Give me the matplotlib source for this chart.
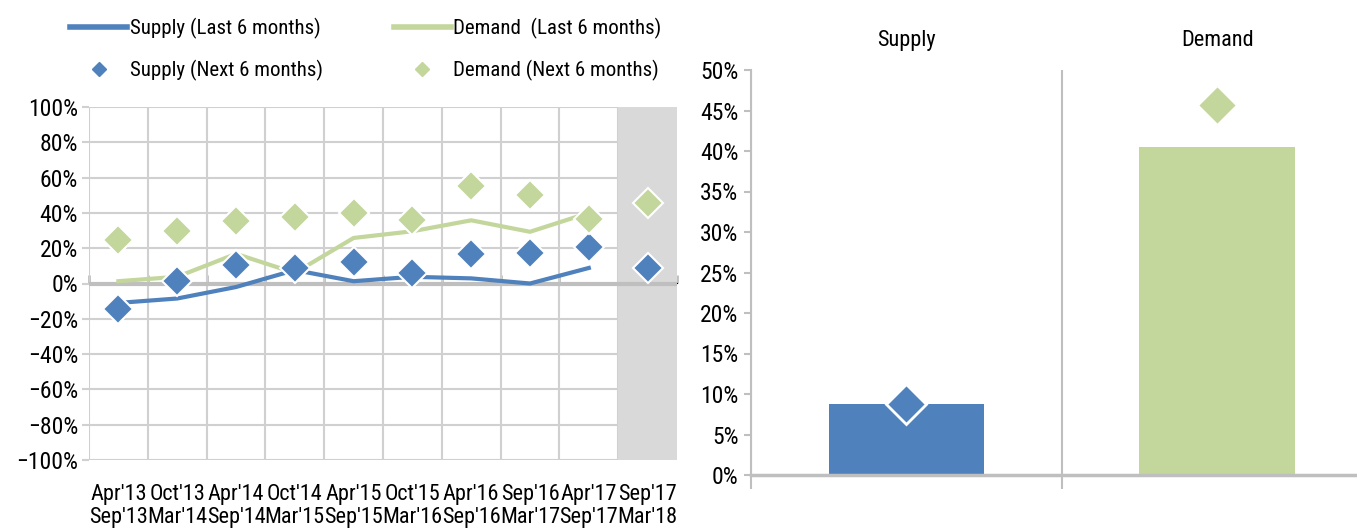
import matplotlib
matplotlib.use('Agg')
import matplotlib.pyplot as plt
from matplotlib import font_manager
from matplotlib.lines import Line2D
from matplotlib.ticker import PercentFormatter


def pick_font():
    # prefer a narrow face, the original uses a condensed sans
    for name in ['Liberation Sans Narrow', 'Roboto Condensed', 'Open Sans Condensed']:
        try:
            font_manager.findfont(name, fallback_to_default=False)
            return name, None, 1.0
        except ValueError:
            pass
    path = font_manager.findfont(font_manager.FontProperties(family='DejaVu Sans', stretch='condensed'))
    if 'Condensed' in path:
        return 'DejaVu Sans', 'condensed', 0.93
    return 'Liberation Sans', None, 0.85


family, stretch, scale = pick_font()
plt.rcParams['font.family'] = [family, 'DejaVu Sans']
if stretch:
    plt.rcParams['font.stretch'] = stretch
fs_leg = 15 * scale
fs_x = 16 * scale
fs_y = 17 * scale

# survey periods
periods = ["Apr'13\nSep'13", "Oct'13\nMar'14", "Apr'14\nSep'14", "Oct'14\nMar'15",
           "Apr'15\nSep'15", "Oct'15\nMar'16", "Apr'16\nSep'16", "Sep'16\nMar'17",
           "Apr'17\nSep'17", "Sep'17\nMar'18"]

# balances, % (last 6 months has no value for the latest period)
supply_last = [-11, -8.5, -2, 7.6, 1.3, 3.8, 2.9, 0, 8.8]
demand_last = [1.3, 3.8, 16.8, 6, 25.8, 29.6, 35.8, 29.3, 40]
supply_next = [-14.3, 1.3, 10.5, 9, 12, 6, 16.6, 17.2, 20.6, 8.8]
demand_next = [24.9, 29.6, 35.4, 37.7, 40.1, 36, 55.4, 50.3, 36.3, 45.8]

# latest reading
latest_cats = ['Supply', 'Demand']
latest_last = [8.8, 40.5]
latest_next = [8.8, 45.7]

blue = '#4f81bd'
green = '#c3d69b'
grid_c = '#d0d0d0'

fig = plt.figure(figsize=(13.57, 5.30), dpi=100)

# ---- left: history ----
ax = fig.add_axes([89/1357, 70/530, 588/1357, 353/530])
n = len(periods)
x = list(range(n))
ax.axvspan(n - 1.5, n - 0.5, color='#d9d9d9', zorder=1)
ax.axhline(0, color='#bfbfbf', lw=3, zorder=1.5)
ax.plot(x[:len(supply_last)], supply_last, color=blue, lw=3, zorder=3)
ax.plot(x[:len(demand_last)], demand_last, color=green, lw=3, zorder=3)
ax.plot(x, supply_next, ls='none', marker='D', ms=15, color=blue, mec='white', mew=1.5, zorder=4)
ax.plot(x, demand_next, ls='none', marker='D', ms=15, color=green, mec='white', mew=1.5, zorder=4)

ax.set_xlim(-0.5, n - 0.5)
ax.set_ylim(-100, 100)
ax.set_yticks(range(-100, 101, 20))
ax.yaxis.set_major_formatter(PercentFormatter(decimals=0))
ax.set_xticks([i - 0.5 for i in range(n + 1)], labels=[])
ax.set_xticks(x, labels=periods, minor=True)
ax.tick_params(axis='x', which='major', length=0)
ax.tick_params(axis='x', which='minor', length=0, labelsize=fs_x, pad=17)
ax.tick_params(axis='y', length=5, color=grid_c, width=1.5, labelsize=fs_y, pad=3)
for lab in ax.get_xticklabels(minor=True):
    lab.set_linespacing(1.15)
ax.set_axisbelow(True)
ax.grid(True, which='major', color=grid_c, lw=1.5)
for s in ax.spines.values():
    s.set_visible(False)

zero_ticks = ax.secondary_xaxis(0.5)
zero_ticks.set_xticks([i - 0.5 for i in range(n + 1)], labels=[])
zero_ticks.tick_params(length=6, width=2, color='#bfbfbf')
zero_ticks.spines['bottom'].set_visible(False)

handles = [
    Line2D([], [], color=blue, lw=4),
    Line2D([], [], ls='none', marker='D', ms=7, color=blue),
    Line2D([], [], color=green, lw=4),
    Line2D([], [], ls='none', marker='D', ms=7, color=green),
]
labels = ['Supply (Last 6 months)', 'Supply (Next 6 months)',
          'Demand  (Last 6 months)', 'Demand (Next 6 months)']
fig.legend(handles, labels, loc='upper left', bbox_to_anchor=(70/1357, 1 - 18/530),
           ncol=2, frameon=False, fontsize=fs_leg, handlelength=2.75, handletextpad=0.12,
           columnspacing=3.4, labelspacing=1.0, borderpad=0, borderaxespad=0)

# ---- right: latest ----
ax2 = fig.add_axes([751/1357, 55/530, 606/1357, 405/530])
xc = list(range(len(latest_cats)))
ax2.bar(xc, latest_last, width=0.5, color=[blue, green], zorder=2)
ax2.plot(xc[0], latest_next[0], ls='none', marker='D', ms=20, color=blue, mec='white', mew=2, zorder=3)
ax2.plot(xc[1], latest_next[1], ls='none', marker='D', ms=20, color=green, mec='white', mew=2, zorder=3)
ax2.set_xlim(-0.5, 1.45)
ax2.set_ylim(0, 50)
ax2.set_yticks(range(0, 51, 5))
ax2.yaxis.set_major_formatter(PercentFormatter(decimals=0))
ax2.set_xticks([-0.5, 0.5], labels=[])
ax2.set_xticks(xc, labels=latest_cats, minor=True)
ax2.tick_params(axis='x', which='major', length=10, width=1.5, color='#bfbfbf')
ax2.tick_params(axis='x', which='minor', length=0, top=True, bottom=False,
                labeltop=True, labelbottom=False, labelsize=fs_x, pad=14)
ax2.tick_params(axis='y', length=5, width=1.5, color='#bfbfbf', labelsize=fs_y, pad=4)
ax2.grid(True, axis='x', which='major', color='#bfbfbf', lw=1.5)
for s in ['top', 'right']:
    ax2.spines[s].set_visible(False)
ax2.spines['left'].set_color('#bfbfbf')
ax2.spines['left'].set_linewidth(1.5)
ax2.spines['bottom'].set_color('#bfbfbf')
ax2.spines['bottom'].set_linewidth(2.5)

fig.savefig('out.png', dpi=100)
